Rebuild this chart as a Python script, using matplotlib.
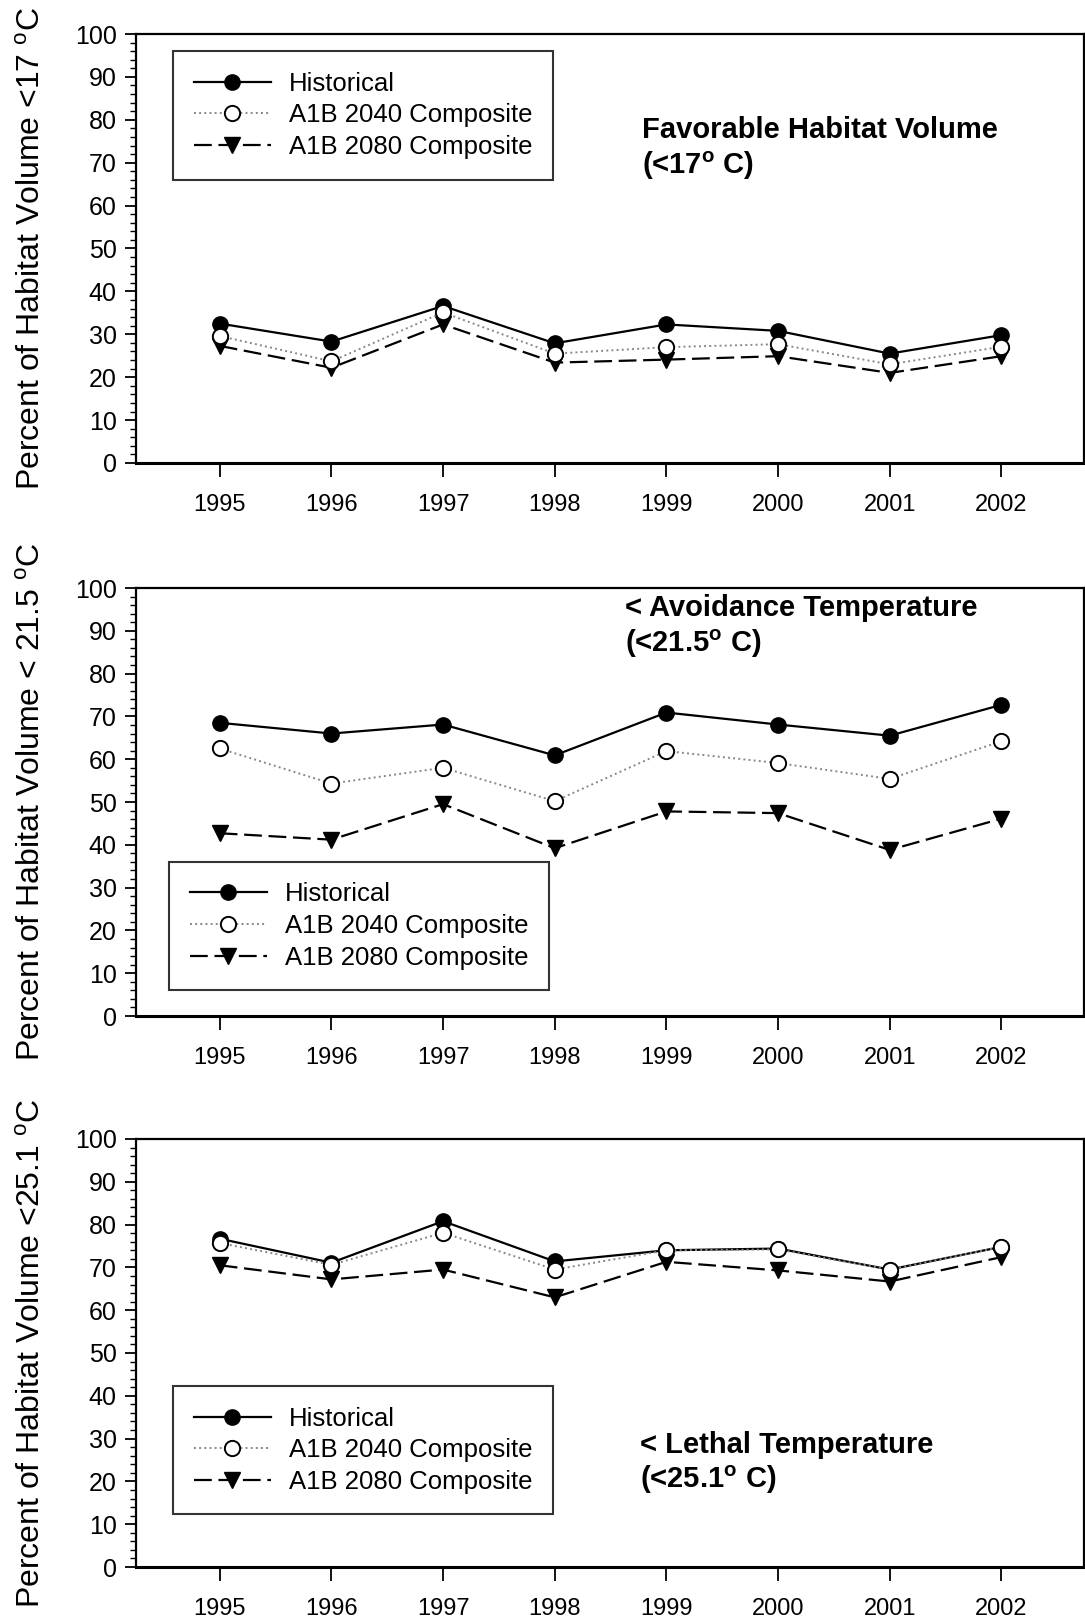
import numpy as np
import matplotlib
matplotlib.use("Agg")
import matplotlib.pyplot as plt
from matplotlib.ticker import MultipleLocator

plt.rcParams['font.family'] = ['Liberation Sans', 'DejaVu Sans']
plt.rcParams['mathtext.fontset'] = 'custom'
plt.rcParams['mathtext.rm'] = 'Liberation Sans'
plt.rcParams['mathtext.bf'] = 'Liberation Sans:bold'

years = ["1995", "1996", "1997", "1998", "1999", "2000", "2001", "2002"]
series_names = ["Historical", "A1B 2040 Composite", "A1B 2080 Composite"]

# Favorable habitat (<17 C)
fav_hist = [32.5, 28.3, 36.6, 27.9, 32.3, 30.8, 25.5, 29.8]
fav_2040 = [29.6, 23.7, 35.1, 25.5, 27.0, 27.7, 23.0, 27.1]
fav_2080 = [27.3, 22.2, 32.3, 23.4, 24.1, 24.9, 21.0, 24.9]

# Avoidance (<21.5 C)
avo_hist = [68.5, 66.0, 68.1, 60.9, 70.9, 68.1, 65.5, 72.7]
avo_2040 = [62.5, 54.3, 58.0, 50.2, 61.9, 59.1, 55.4, 64.2]
avo_2080 = [42.7, 41.2, 49.5, 39.2, 47.8, 47.4, 38.8, 46.1]

# Lethal (<25.1 C)
let_hist = [76.7, 71.1, 80.8, 71.4, 74.0, 74.4, 69.5, 74.8]
let_2040 = [75.7, 70.6, 78.1, 69.5, 74.0, 74.2, 69.5, 74.8]
let_2080 = [70.5, 67.2, 69.5, 63.0, 71.3, 69.3, 66.7, 72.4]

ylabels = [r"Percent of Habitat Volume <17 $^{\mathrm{o}}$C",
           r"Percent of Habitat Volume < 21.5 $^{\mathrm{o}}$C",
           r"Percent of Habitat Volume <25.1 $^{\mathrm{o}}$C"]
notes = ["Favorable Habitat Volume\n(<17$^{\\mathbf{o}}$ C)",
         "< Avoidance Temperature\n(<21.5$^{\\mathbf{o}}$ C)",
         "< Lethal Temperature\n(<25.1$^{\\mathbf{o}}$ C)"]

panels = [(fav_hist, fav_2040, fav_2080),
          (avo_hist, avo_2040, avo_2080),
          (let_hist, let_2040, let_2080)]

W, H = 1085, 1619
fig = plt.figure(figsize=(W / 100, H / 100), dpi=100)

# pixel boxes (top, bottom) of each panel
boxes = [(34, 463), (588, 1016), (1139, 1567)]
left, right = 136, 1084
legend_pos = [(0.039, 0.96), (0.035, 0.36), (0.039, 0.423)]
note_pos = [(0.534, 0.808), (0.516, 0.985), (0.532, 0.318)]

x = np.arange(len(years))

for i, (top, bot) in enumerate(boxes):
    ax = fig.add_axes([left / W, 1 - bot / H, (right - left) / W, (bot - top) / H])
    hist, a40, a80 = panels[i]
    ax.plot(x, hist, '-', color='black', lw=1.6, marker='o', ms=11,
            mfc='black', mec='black', label=series_names[0], zorder=3)
    ax.plot(x, a40, ':', color='#888888', lw=1.4, marker='o', ms=11,
            mfc='white', mec='black', mew=1.4, label=series_names[1], zorder=4)
    ax.plot(x, a80, color='black', lw=1.6, dashes=(8, 3), marker='v', ms=12,
            mfc='black', mec='black', label=series_names[2], zorder=2)

    ax.set_xlim(-0.75, 7.74)
    ax.set_ylim(0, 100)
    ax.set_xticks(x)
    ax.set_xticklabels(years)
    ax.yaxis.set_major_locator(MultipleLocator(10))
    ax.yaxis.set_minor_locator(MultipleLocator(2))
    ax.tick_params(axis='y', which='major', direction='out', length=8, width=1.3,
                   labelsize=18, pad=6)
    ax.tick_params(axis='y', which='minor', direction='out', length=4, width=1.0)
    ax.tick_params(axis='x', which='major', direction='out', length=10, width=1.3,
                   labelsize=17, pad=12)
    for s in ax.spines.values():
        s.set_linewidth(1.6)
    ax.spines['bottom'].set_linewidth(2.2)

    ax.set_ylabel(ylabels[i], fontsize=23)
    ax.yaxis.set_label_coords(-0.094, 0.5)

    leg = ax.legend(loc='upper left', bbox_to_anchor=legend_pos[i], borderaxespad=0,
                    fontsize=18.5, frameon=True, fancybox=False, handlelength=3.0,
                    handletextpad=0.7, borderpad=0.8, labelspacing=0.3)
    leg.get_frame().set_edgecolor('black')
    leg.get_frame().set_linewidth(1.5)

    ax.text(note_pos[i][0], note_pos[i][1], notes[i], transform=ax.transAxes,
            fontsize=21, fontweight='bold', va='top', ha='left', linespacing=1.2)

fig.savefig("out.png", dpi=100)
